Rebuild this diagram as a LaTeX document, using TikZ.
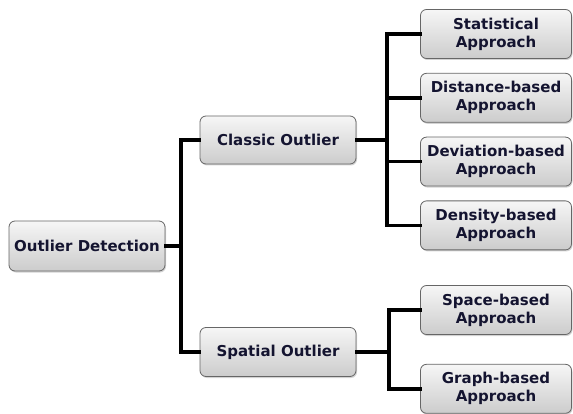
\documentclass[tikz,border=0pt]{standalone}
\usepackage{fontspec}
\setmainfont{DejaVu Sans}
\usetikzlibrary{positioning,shadows}
\definecolor{boxtext}{HTML}{141430}
\definecolor{boxline}{HTML}{666666}

\begin{document}
\begin{tikzpicture}[x=1pt, y=1pt, node distance = 14pt,
                    box/.style = {draw=boxline, line width=0.8pt, rounded corners=6pt,
                      top color=gray!7, bottom color=gray!40,
                      drop shadow={shadow xshift=1pt, shadow yshift=-1.5pt, opacity=0.35},
                      text=boxtext, font=\fontsize{15}{18}\selectfont\bfseries,
                      align=center, minimum height=50pt, inner sep=2pt},
                    wide/.style = {box, minimum width=156pt},
                    leaf/.style = {box, minimum width=151pt, minimum height=49pt},
                    link/.style = {line width=3.5pt, line cap=rect}]
\useasboundingbox (0,0) rectangle (573,-414);
\node[wide] (od) at (87,-246) {Outlier Detection};
\node[wide, minimum height=48pt] (classic) at (278,-140) {Classic Outlier};
\node[wide, minimum height=49pt] (spatial) at (278,-352) {Spatial Outlier};
\begin{scope}[node distance=14pt]
\node[leaf] (stat) at (496,-34) {Statistical\\Approach};
\node[leaf, below= of stat] (dist) {Distance-based\\Approach};
\node[leaf, below= of dist] (dev) {Deviation-based\\Approach};
\node[leaf, below= of dev] (dens) {Density-based\\Approach};
\node[leaf] (space) at (496,-310) {Space-based\\Approach};
\node[leaf, below= 29pt of space] (graph) {Graph-based\\Approach};
\end{scope}
\coordinate (b1) at (181,-246);
\coordinate (b2) at (387,-140);
\coordinate (b3) at (389,-352);
\draw[link] (od.east) -- (b1) |- (classic.west);
\draw[link] (b1) |- (spatial.west);
\draw[link] (classic.east) -- (b2) |- (stat.west);
\draw[link] (b2) |- (dist.west);
\draw[link] (b2) |- (dev.west);
\draw[link] (b2) |- (dens.west);
\draw[link] (spatial.east) -- (b3) |- (space.west);
\draw[link] (b3) |- (graph.west);
\end{tikzpicture}
\end{document}
